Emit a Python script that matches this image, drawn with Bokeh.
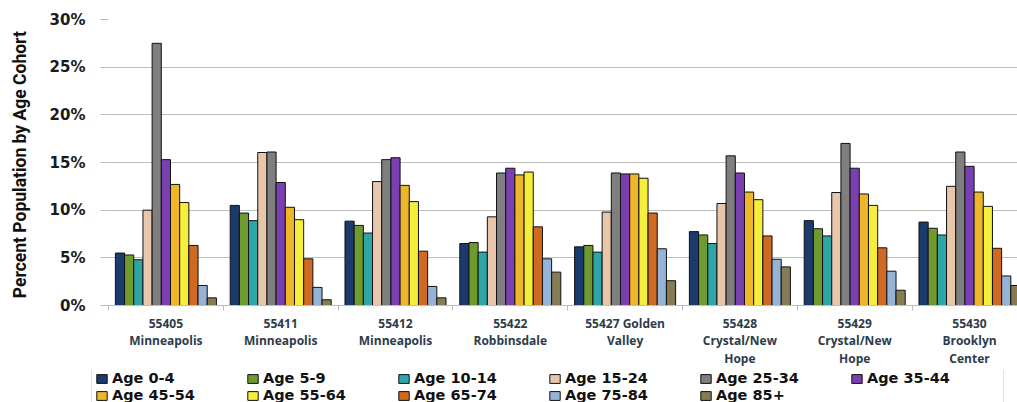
from bokeh.plotting import figure
from bokeh.layouts import column
from bokeh.models import ColumnDataSource, Range1d, FixedTicker, Legend, LegendItem
from bokeh.embed import file_html
from bokeh.resources import INLINE

categories = ["55405\nMinneapolis", "55411\nMinneapolis", "55412\nMinneapolis",
              "55422\nRobbinsdale", "55427 Golden\nValley", "55428\nCrystal/New\nHope",
              "55429\nCrystal/New\nHope", "55430\nBrooklyn\nCenter"]
cohorts = ["Age 0-4", "Age 5-9", "Age 10-14", "Age 15-24", "Age 25-34", "Age 35-44",
           "Age 45-54", "Age 55-64", "Age 65-74", "Age 75-84", "Age 85+"]
age_0_4 = [5.5, 10.5, 8.85, 6.5, 6.15, 7.75, 8.9, 8.75]
age_5_9 = [5.3, 9.7, 8.4, 6.6, 6.3, 7.4, 8.05, 8.1]
age_10_14 = [4.8, 8.9, 7.6, 5.6, 5.6, 6.5, 7.3, 7.4]
age_15_24 = [10.0, 16.05, 13.0, 9.3, 9.8, 10.7, 11.85, 12.5]
age_25_34 = [27.5, 16.1, 15.3, 13.9, 13.9, 15.7, 17.0, 16.1]
age_35_44 = [15.3, 12.9, 15.5, 14.4, 13.8, 13.9, 14.4, 14.6]
age_45_54 = [12.7, 10.3, 12.6, 13.7, 13.8, 11.9, 11.7, 11.9]
age_55_64 = [10.8, 9.0, 10.9, 14.0, 13.35, 11.1, 10.5, 10.4]
age_65_74 = [6.3, 4.9, 5.7, 8.25, 9.7, 7.3, 6.05, 6.0]
age_75_84 = [2.1, 1.9, 2.0, 4.9, 5.95, 4.85, 3.6, 3.1]
age_85_plus = [0.8, 0.6, 0.8, 3.5, 2.6, 4.05, 1.6, 2.1]
series = [age_0_4, age_5_9, age_10_14, age_15_24, age_25_34, age_35_44,
          age_45_54, age_55_64, age_65_74, age_75_84, age_85_plus]
colors = ["#1B3A6E", "#6E9A2E", "#2FA6A6", "#E8C6AC", "#7F7F7F", "#7A3FB0",
          "#F0B62A", "#F5EE3A", "#D06A22", "#95B3D7", "#857C55"]
y_ticks = [0, 5, 10, 15, 20, 25, 30]

n_groups = len(categories)
n_series = len(series)
bar_w = 0.08
centers = list(range(n_groups))

p = figure(frame_width=909, frame_height=286, output_backend="svg", toolbar_location=None,
           x_range=Range1d(-0.5, -0.5 + 909 / 114.8), y_range=Range1d(0, 30),
           min_border_left=108, min_border_right=0, min_border_top=19,
           min_border_bottom=62)
p.outline_line_color = None
p.background_fill_color = "white"
p.xgrid.grid_line_color = None
p.ygrid.grid_line_color = "#BDBDBD"
p.ygrid.grid_line_width = 1.2

for j, (vals, col) in enumerate(zip(series, colors)):
    xs = [c + (j - (n_series - 1) / 2) * bar_w for c in centers]
    src = ColumnDataSource(dict(x=xs, top=vals))
    p.vbar(x="x", top="top", width=bar_w, bottom=0, source=src,
           fill_color=col, line_color="#111111", line_width=1)

# x axis
p.xaxis.ticker = FixedTicker(ticks=centers, minor_ticks=[c + 0.5 for c in centers[:-1]] + [-0.5])
p.xaxis.major_label_overrides = {i: categories[i] for i in range(n_groups)}
p.xaxis.major_tick_line_color = None
p.xaxis.minor_tick_line_color = "#BDBDBD"
p.xaxis.minor_tick_out = 5
p.xaxis.minor_tick_in = 0
p.xaxis.axis_line_color = "#BDBDBD"
p.xaxis.major_label_text_font = "Open Sans"
p.xaxis.major_label_text_font_style = "bold"
p.xaxis.major_label_text_font_size = "12px"
p.xaxis.major_label_text_color = "#2E3B4A"
p.xaxis.major_label_standoff = 3
p.xaxis.major_label_text_line_height = 1.05

# y axis
p.yaxis.ticker = FixedTicker(ticks=y_ticks)
p.yaxis.major_label_overrides = {t: f"{t}%" for t in y_ticks}
p.yaxis.axis_line_color = None
p.yaxis.major_tick_line_color = "#BDBDBD"
p.yaxis.major_tick_out = 8
p.yaxis.major_tick_in = 0
p.yaxis.minor_tick_line_color = None
p.yaxis.major_label_text_font = "DejaVu Sans"
p.yaxis.major_label_text_font_style = "bold"
p.yaxis.major_label_text_font_size = "15px"
p.yaxis.major_label_text_color = "#1A1A1A"
p.yaxis.major_label_standoff = 15
p.yaxis.axis_label = "Percent  Population by Age Cohort"
p.yaxis.axis_label_text_font = "Roboto"
p.yaxis.axis_label_text_font_style = "bold"
p.yaxis.axis_label_text_font_size = "17.5px"
p.yaxis.axis_label_text_color = "#111111"
p.yaxis.axis_label_standoff = 17

# legend strip below the chart
lg = figure(frame_width=1017, frame_height=35, output_backend="svg", toolbar_location=None,
            x_range=Range1d(0, 1), y_range=Range1d(0, 1),
            x_axis_location=None, y_axis_location=None,
            min_border_left=0, min_border_right=0, min_border_top=0, min_border_bottom=0)
lg.outline_line_color = None
lg.xgrid.grid_line_color = None
lg.ygrid.grid_line_color = None
items = []
for name, col in zip(cohorts, colors):
    r = lg.vbar(x=[-10], top=[0], width=0.1, fill_color=col, line_color="#111111", line_width=1)
    items.append(LegendItem(label=name, renderers=[r]))

legend = Legend(items=items, orientation="horizontal", ncols=6, location=(91, -2),
                border_line_color="#C8C8C8", border_line_width=1,
                background_fill_color="white", background_fill_alpha=1,
                label_text_font="DejaVu Sans", label_text_font_style="bold",
                label_text_font_size="14.5px", label_text_color="#111111",
                glyph_width=13, glyph_height=11, label_standoff=4,
                label_width=133, label_height=14, spacing=1, padding=3,
                margin=0)
lg.add_layout(legend, "center")

layout = column(p, lg, spacing=0)
open("out.html", "w").write(file_html(layout, INLINE))
